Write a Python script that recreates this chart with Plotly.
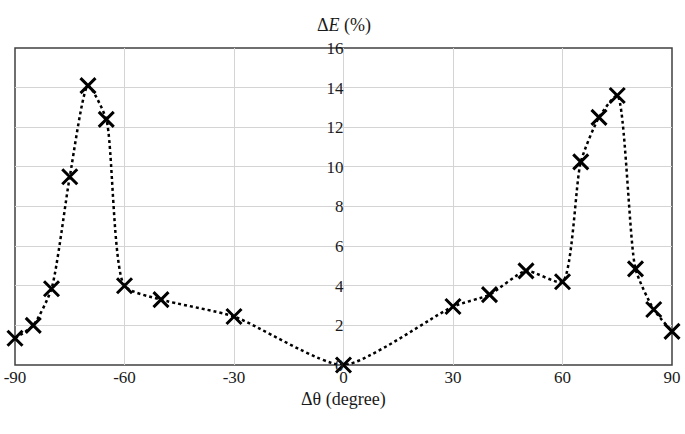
import plotly.graph_objects as go

theta = [-90, -85, -80, -75, -70, -65, -60, -50, -30, 0, 30, 40, 50, 60, 65, 70, 75, 80, 85, 90]
delta_e = [1.35, 2.0, 3.85, 9.5, 14.1, 12.4, 4.0, 3.3, 2.45, 0.0, 2.95, 3.55, 4.75, 4.2, 10.25, 12.5, 13.6, 4.85, 2.8, 1.7]

x_ticks = [-90, -60, -30, 0, 30, 60, 90]
y_ticks = [0, 2, 4, 6, 8, 10, 12, 14, 16]

font_family = "Liberation Serif"

fig = go.Figure()
fig.add_trace(go.Scatter(
    x=theta, y=delta_e,
    mode="lines+markers",
    line=dict(color="black", width=2.5, dash="dot", shape="spline", smoothing=0.6),
    marker=dict(symbol="x-thin", size=15, line=dict(color="black", width=3), color="black"),
    cliponaxis=False,
    showlegend=False,
))

fig.update_layout(
    width=685, height=434,
    margin=dict(l=15, r=13, t=48, b=69),
    paper_bgcolor="white", plot_bgcolor="white",
    font=dict(family=font_family, size=17, color="#1a1a1a"),
    xaxis=dict(
        range=[-90, 90], tickvals=x_ticks, ticktext=[str(v) for v in x_ticks],
        showgrid=True, gridcolor="#d4d4d4", gridwidth=1, zeroline=False,
        showline=False, ticks="", tickfont=dict(size=17, family=font_family, color="#1a1a1a"),
        automargin=False, ticklabeloverflow="allow",
    ),
    yaxis=dict(
        range=[0, 16], tickvals=y_ticks, ticktext=[str(v) for v in y_ticks],
        showgrid=True, gridcolor="#d4d4d4", gridwidth=1, zeroline=False,
        showline=False, ticks="", anchor="free", position=0.5,
        tickfont=dict(size=17, family=font_family, color="#1a1a1a"), ticklabelstandoff=0,
        automargin=False, ticklabeloverflow="allow",
    ),
    shapes=[
        dict(type="rect", xref="paper", yref="paper", x0=0, x1=1, y0=0, y1=1,
             line=dict(color="#404040", width=1.5), layer="below"),
    ],
    annotations=[
        dict(text="Δ<i>E</i> (%)", xref="paper", yref="paper", x=0.5, y=1, yshift=35,
             showarrow=False, font=dict(size=18, family=font_family, color="#1a1a1a")),
        dict(text="Δθ (degree)", xref="paper", yref="paper", x=0.5, y=0, yshift=-47,
             showarrow=False, font=dict(size=18, family=font_family, color="#1a1a1a")),
    ],
)

fig.write_html("out.html", config={"displayModeBar": False},
               post_script="document.body.style.margin='0';")
